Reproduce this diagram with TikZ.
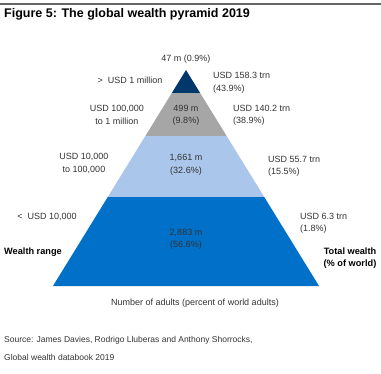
\documentclass[tikz,border=0pt]{standalone}
\usepackage{fontspec}
\setmainfont{Liberation Sans}
\usepackage{tikz}
\usetikzlibrary{positioning}
\definecolor{navyband}{RGB}{0,56,108}
\definecolor{grayband}{RGB}{166,166,166}
\definecolor{lightband}{RGB}{170,198,234}
\definecolor{blueband}{RGB}{0,112,200}
\definecolor{txtgray}{RGB}{51,51,51}

\begin{document}
\begin{tikzpicture}[
    x=1pt, y=-1pt,
    lbl/.style={text=txtgray, inner sep=0pt, font=\fontsize{9}{12.5}\selectfont, align=center},
    rlbl/.style={lbl, anchor=west, align=left},
    bold lbl/.style={lbl, font=\fontsize{9.2}{12.5}\selectfont\bfseries, text=black},
    src lbl/.style={lbl, anchor=west, font=\fontsize{8.5}{12}\selectfont}
]
% Pyramid: apex at (186,70), half width = 0.616 * depth below apex
\def\slope{0.616}
\useasboundingbox (0,0) rectangle (381,373);

% Rule and title
\draw[line width=1.2pt, gray!80!black] (0,4) -- (381,4);
\node[anchor=west, inner sep=0pt, font=\fontsize{12.5}{14}\selectfont\bfseries] (title) at (4,14) {Figure 5: The global wealth pyramid 2019};

% Bands (top/bottom in px)
\fill[navyband] (186,70) -- ({186+\slope*23},93) -- ({186-\slope*23},93) -- cycle;
\foreach \t/\b/\c in {93/136/grayband, 136/197/lightband, 197/286/blueband} {
  \fill[\c] ({186-\slope*(\t-70)},\t) -- ({186+\slope*(\t-70)},\t)
        -- ({186+\slope*(\b-70)},\b) -- ({186-\slope*(\b-70)},\b) -- cycle;
}

% Number of adults (inside / above the bands)
\node[lbl] (top) at (186,59) {47 m (0.9\%)};
\node[lbl] (millionaires) at (186,115.5) {499 m\\(9.8\%)};
\node[lbl] (middle) at (186,165) {1,661 m\\(32.6\%)};
\node[lbl] (base) at (186,239.5) {2,883 m\\(56.6\%)};

% Wealth range (left)
\node[lbl] (range1) at (130,80) {>\ \ USD 1 million};
\node[lbl] (range2) at (117,115) {USD 100,000\\to 1 million};
\node[lbl] (range3) at (84,163.5) {USD 10,000\\to 100,000};
\node[lbl] (range4) at (47,217) {<\ \ USD 10,000};
\node[bold lbl, anchor=west] (rangehead) at (4,252) {Wealth range};

% Total wealth (right)
\node[rlbl] (wealth1) at (213,83) {USD 158.3 trn\\(43.9\%)};
\node[rlbl] (wealth2) at (233,115.5) {USD 140.2 trn\\(38.9\%)};
\node[rlbl] (wealth3) at (268,166.5) {USD 55.7 trn\\(15.5\%)};
\node[rlbl] (wealth4) at (300,223.5) {USD 6.3 trn\\(1.8\%)};
\node[bold lbl] (wealthhead) at (350,258) {Total wealth\\(\% of world)};

% Axis caption and source
\node[lbl] (caption) at (195,303) {Number of adults (percent of world adults)};
\node[src lbl] (source1) at (4,340) {Source: James Davies, Rodrigo Lluberas and Anthony Shorrocks,};
\node[src lbl] (source2) at (4,357) {Global wealth databook 2019};
\end{tikzpicture}
\end{document}
